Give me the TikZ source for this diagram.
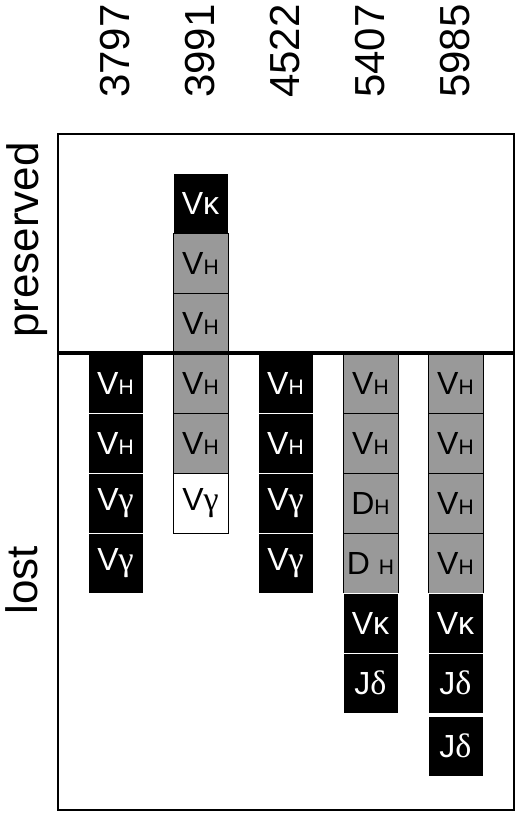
\documentclass[tikz,border=0pt]{standalone}
\usepackage{fontspec}
\setmainfont{Liberation Sans}
\newfontfamily\greekface{Liberation Serif}
\definecolor{cellgrey}{HTML}{999999}
\newcommand{\chain}[1]{{\fontsize{21}{21}\selectfont #1}}
\newcommand{\gk}[1]{{\greekface\fontsize{34}{34}\selectfont #1}}

\begin{document}
\begin{tikzpicture}[
  x=1pt,y=-1pt,
  font=\fontsize{32}{32}\selectfont,
  cell/.style={minimum width=55pt,minimum height=60pt,inner sep=0pt,
               line width=1pt},
  darkcell/.style={cell,fill=black,draw=white,text=white},
  greycell/.style={cell,fill=cellgrey,draw=black},
  whitecell/.style={cell,fill=white,draw=black},
  clone/.style={font=\fontsize{42}{42}\selectfont,rotate=90,anchor=west,
                inner sep=0pt},
  side/.style={font=\fontsize{44}{44}\selectfont,rotate=90,anchor=base,
               inner sep=0pt}
]
  \path[use as bounding box] (0,0) rectangle (520,815);

  % clone numbers above the columns
  \foreach \j/\num in {0/3797,1/3991,2/4522,3/5407,4/5985}{
    \node[clone] (clone-\num) at (115.5+85*\j,98) {\num};
  }

  % frame and side labels
  \draw[line width=2.5pt] (58,134) rectangle (514,810);
  \node[side] (preserved) at (38,240) {preserved};
  \node[side] (lost) at (37,580) {lost};

  % gene segments, row 0 starts just under the divider
  \foreach \j/\r/\kind/\seg in {
    0/0/darkcell/{V\chain{H}},0/1/darkcell/{V\chain{H}},
    0/2/darkcell/{V\gk{γ}},0/3/darkcell/{V\gk{γ}},
    1/-3/darkcell/{Vκ},1/-2/greycell/{V\chain{H}},1/-1/greycell/{V\chain{H}},
    1/0/greycell/{V\chain{H}},1/1/greycell/{V\chain{H}},1/2/whitecell/{V\gk{γ}},
    2/0/darkcell/{V\chain{H}},2/1/darkcell/{V\chain{H}},
    2/2/darkcell/{V\gk{γ}},2/3/darkcell/{V\gk{γ}},
    3/0/greycell/{V\chain{H}},3/1/greycell/{V\chain{H}},
    3/2/greycell/{D\chain{H}},3/3/greycell/{D \chain{H}},
    3/4/darkcell/{Vκ},3/5/darkcell/{J\gk{δ}},
    4/0/greycell/{V\chain{H}},4/1/greycell/{V\chain{H}},
    4/2/greycell/{V\chain{H}},4/3/greycell/{V\chain{H}},
    4/4/darkcell/{Vκ},4/5/darkcell/{J\gk{δ}}}{
    \node[\kind] (seg-\j-\r) at (115.5+85*\j,383+60*\r) {\seg};
  }
  \node[darkcell] (seg-4-6) at (455.5,746) {J\gk{δ}};

  % divider between preserved and lost
  \draw[line width=4.5pt] (58,353) -- (514,353);
\end{tikzpicture}
\end{document}
